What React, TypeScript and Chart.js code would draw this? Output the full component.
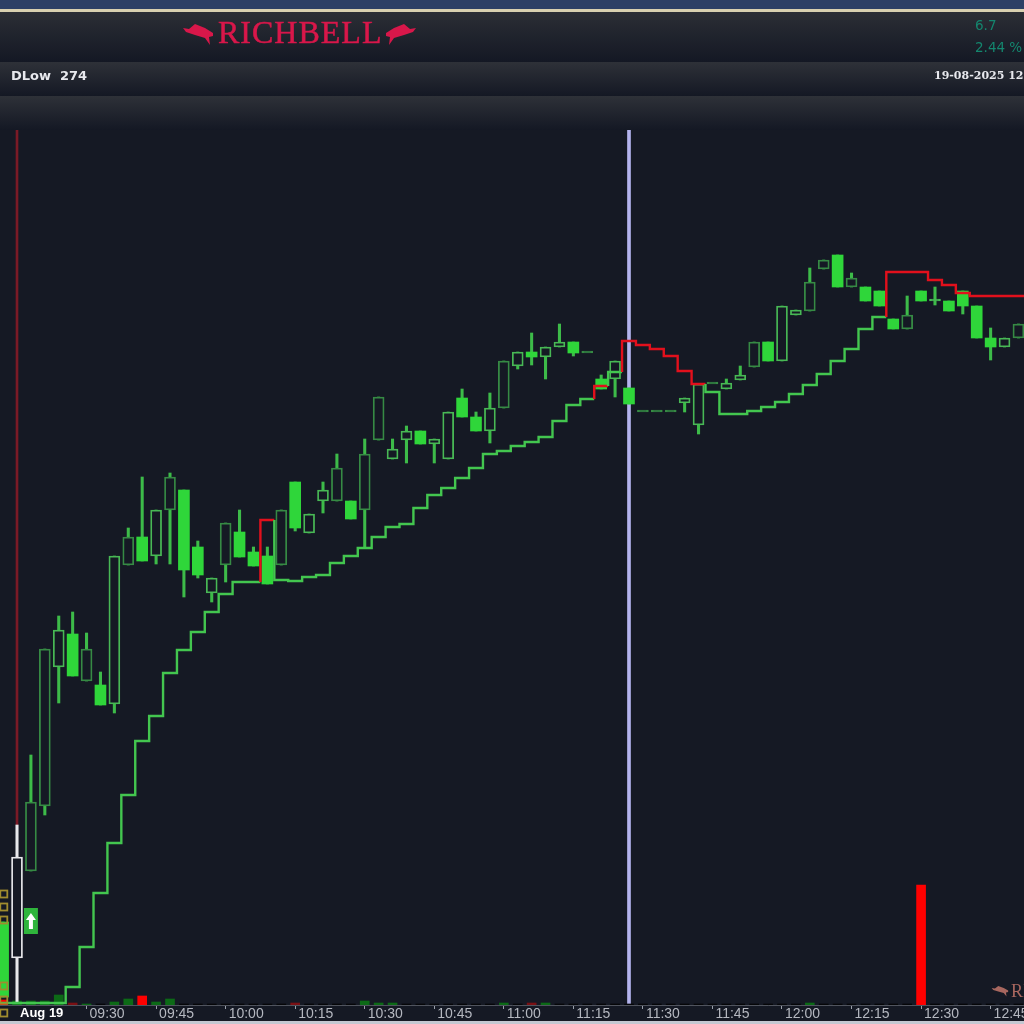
import React, { useEffect, useRef } from "react";
import { Chart, registerables } from "chart.js";

Chart.register(...registerables);

// ---- Data ----
const candleTimes = [
  "Prev", "09:15", "09:18", "09:21", "09:24", "09:27", "09:30", "09:33", "09:36", "09:39",
  "09:42", "09:45", "09:48", "09:51", "09:54", "09:57", "10:00", "10:03", "10:06", "10:09",
  "10:12", "10:15", "10:18", "10:21", "10:24", "10:27", "10:30", "10:33", "10:36", "10:39",
  "10:42", "10:45", "10:48", "10:51", "10:54", "10:57", "11:00", "11:03", "11:06", "11:09",
  "11:12", "11:15", "11:18", "11:21", "11:24", "11:27", "11:30", "11:33", "11:36", "11:39",
  "11:42", "11:45", "11:48", "11:51", "11:54", "11:57", "12:00", "12:03", "12:06", "12:09",
  "12:12", "12:15", "12:18", "12:21", "12:24", "12:27", "12:30", "12:33", "12:36", "12:39",
  "12:42", "12:45", "12:48", "12:51",
];
const opens = [
  274.81, 274.45, 275.32, 275.97, 277.36, 277.69, 277.22, 277.18, 276.99, 278.38,
  278.66, 278.47, 278.93, 279.13, 278.56, 278.10, 278.38, 278.71, 278.51, 278.47,
  278.38, 279.21, 278.70, 279.02, 279.02, 279.02, 278.93, 279.63, 279.44, 279.63,
  279.72, 279.59, 279.44, 280.05, 279.86, 279.72, 279.95, 280.37, 280.51, 280.46,
  280.56, 280.61, 280.50, 280.24, 280.24, 280.15, 279.91, 279.91, 279.91, 280.00,
  279.78, 280.19, 280.14, 280.23, 280.36, 280.61, 280.42, 280.88, 280.92, 281.34,
  281.48, 281.16, 281.16, 281.12, 280.84, 280.74, 281.12, 281.02, 281.02, 281.12,
  280.97, 280.65, 280.56, 280.65,
];
const closes = [
  274.06, 275.46, 276.01, 277.54, 277.73, 277.27, 277.54, 276.98, 278.47, 278.66,
  278.42, 278.93, 279.26, 278.33, 278.28, 278.25, 278.80, 278.46, 278.37, 278.19,
  278.93, 278.75, 278.89, 279.13, 279.35, 278.84, 279.49, 280.06, 279.54, 279.72,
  279.59, 279.64, 279.91, 279.86, 279.72, 279.95, 280.42, 280.51, 280.46, 280.56,
  280.61, 280.50, 280.52, 280.14, 280.42, 279.99, 279.93, 279.93, 279.93, 280.05,
  280.19, 280.21, 280.20, 280.28, 280.61, 280.42, 280.97, 280.93, 281.21, 281.43,
  281.16, 281.25, 281.02, 280.97, 280.74, 280.88, 281.02, 281.04, 280.92, 280.97,
  280.65, 280.56, 280.65, 280.79,
];
const highs = [
  274.81, 275.78, 276.48, 277.54, 277.87, 277.91, 277.70, 277.31, 278.47, 278.75,
  279.26, 278.93, 279.30, 279.13, 278.62, 278.25, 278.80, 278.93, 278.56, 278.56,
  278.93, 279.21, 278.89, 279.21, 279.49, 279.02, 279.64, 280.06, 279.64, 279.77,
  279.72, 279.64, 279.91, 280.14, 279.91, 280.10, 280.42, 280.51, 280.70, 280.56,
  280.79, 280.61, 280.52, 280.28, 280.42, 280.15, 279.93, 279.93, 279.93, 280.05,
  280.19, 280.21, 280.24, 280.37, 280.61, 280.61, 280.97, 280.93, 281.35, 281.43,
  281.48, 281.30, 281.16, 281.12, 280.84, 281.07, 281.12, 281.16, 281.02, 281.12,
  280.97, 280.75, 280.65, 280.79,
];
const lows = [
  274.06, 274.00, 275.32, 275.88, 277.00, 277.27, 277.22, 276.98, 276.90, 278.38,
  278.42, 278.39, 278.39, 278.06, 278.25, 278.01, 278.21, 278.46, 278.37, 278.19,
  278.38, 278.72, 278.70, 278.90, 279.02, 278.84, 278.56, 279.63, 279.44, 279.40,
  279.59, 279.40, 279.44, 279.86, 279.72, 279.60, 279.95, 280.34, 280.38, 280.24,
  280.56, 280.47, 280.50, 280.14, 280.06, 279.99, 279.91, 279.91, 279.91, 279.91,
  279.69, 280.19, 280.14, 280.23, 280.36, 280.42, 280.42, 280.88, 280.92, 281.34,
  281.16, 281.16, 281.02, 280.97, 280.74, 280.74, 281.02, 280.98, 280.92, 280.89,
  280.65, 280.43, 280.56, 280.65,
];
const trendLine = [
  274.00, 274.00, 274.00, 274.00, 274.00, 274.16, 274.56, 275.10, 275.60, 276.08,
  276.62, 276.87, 277.30, 277.53, 277.71, 277.91, 278.09, 278.21, 278.21, 278.83,
  278.23, 278.22, 278.26, 278.28, 278.40, 278.47, 278.55, 278.66, 278.76, 278.79,
  278.95, 279.08, 279.15, 279.25, 279.35, 279.49, 279.52, 279.57, 279.61, 279.66,
  279.82, 279.98, 280.04, 280.17, 280.31, 280.62, 280.58, 280.54, 280.47, 280.32,
  280.19, 280.11, 279.89, 279.89, 279.92, 279.96, 280.01, 280.09, 280.18, 280.29,
  280.42, 280.54, 280.74, 280.86, 281.31, 281.31, 281.31, 281.23, 281.18, 281.10,
  281.07, 281.07, 281.07, 281.07,
];
const trendDownSteps = [19, 43, 45, 46, 47, 48, 49, 50, 64, 65, 66, 67, 68, 69, 70, 71, 72, 73];
const volumes = [
  5, 4, 4, 4, 10, 2, 1, 1, 3, 6,
  9, 3, 6, 1, 1, 1, 1, 1, 1, 1,
  1, 2, 1, 1, 1, 1, 4, 2, 2, 1,
  1, 1, 1, 1, 1, 1, 2, 1, 2, 2,
  1, 1, 1, 1, 1, 1, 1, 1, 1, 1,
  1, 1, 1, 1, 1, 1, 1, 1, 2, 1,
  1, 1, 1, 1, 1, 1, 120, 1, 1, 1,
  1, 1, 1, 1,
];
const volumeRedBars = [0, 5, 10, 21, 38, 66];
const volumeGreenBars = [1, 2, 3, 4, 6, 8, 9, 11, 12, 26, 27, 28, 36, 39, 58];
const tickCandles = [1, 6, 11, 16, 21, 26, 31, 36, 41, 46, 51, 56, 61, 66, 71];
const tickLabels = ["Aug 19", "09:30", "09:45", "10:00", "10:15", "10:30", "10:45", "11:00", "11:15", "11:30", "11:45", "12:00", "12:15", "12:30", "12:45"];
const selectedCandle = 45;
const sessionCandle = 1;
const sessionHigh = 275.78;
const signalCandle = 2;
const signalPrice = 274.82;
const alertPrices = [275.09, 274.96, 274.83, 274.17, 274.03, 273.90];
const alertCandle = 0;
const lowLabel = "DLow";
const lowValue = "274";
const changeValue = "6.7";
const changePercent = "2.44 %";
const stamp = "19-08-2025 12:51";
const brand = "RICHBELL";

// ---- Styles ----
const BG = "#151924";
const GREEN = "#2fd63a";
const WICK = "#3dbb49";
const HOLLOW = "#48b855";
const HOLLOW_DIM = "#368a44";
const dimHollow = [2, 3, 6, 9, 12, 16, 20, 24, 26, 27, 36, 42, 46, 47, 48, 51, 54, 58, 59, 61, 65, 73];
const LINE_GREEN = "#43c64f";
const LINE_RED = "#e2101c";
const yMin = 273.98;
const yMax = 282.73;
const xMin = -0.223;
const xMax = 73.4;

function panel(ctx: CanvasRenderingContext2D, top: number, bottom: number, w: number, a = "#2e3138", b = "#141824") {
  const g = ctx.createLinearGradient(0, top, 0, bottom);
  g.addColorStop(0, a);
  g.addColorStop(1, b);
  ctx.fillStyle = g;
  ctx.fillRect(0, top, w, bottom - top);
}

function bull(ctx: CanvasRenderingContext2D, mirrorAt: number | null) {
  const pts = [[183, 28], [189, 29], [195, 24], [205, 28], [213, 33], [213, 36], [209, 37], [210, 45], [205, 38], [195, 35], [186, 32]];
  ctx.beginPath();
  pts.forEach(([x, y], i) => {
    const px = mirrorAt === null ? x : 2 * mirrorAt - x;
    if (i === 0) ctx.moveTo(px, y);
    else ctx.lineTo(px, y);
  });
  ctx.closePath();
  ctx.fill();
}

const framePlugin = {
  id: "frame",
  beforeDraw(chart: any) {
    const { ctx, width, height } = chart;
    ctx.save();
    ctx.fillStyle = BG;
    ctx.fillRect(0, 0, width, height);
    ctx.fillStyle = "#2d4065";
    ctx.fillRect(0, 0, width, 9);
    ctx.fillStyle = "#d8d0b0";
    ctx.fillRect(0, 9, width, 3);
    panel(ctx, 12, 62, width, "#2b2e35", "#141824");
    panel(ctx, 62, 96, width);
    panel(ctx, 96, 130, width);
    ctx.fillStyle = "#c4c8d2";
    ctx.fillRect(0, 1021, width, 3);

    ctx.textBaseline = "middle";
    ctx.fillStyle = "#d8174a";
    ctx.strokeStyle = "#d8174a";
    bull(ctx, null);
    bull(ctx, 299.5);
    ctx.font = "32px 'Liberation Serif'";
    (ctx as any).letterSpacing = "1px";
    ctx.textAlign = "left";
    ctx.fillText(brand, 218, 35);
    ctx.lineWidth = 0.5;
    ctx.strokeText(brand, 218, 35);
    (ctx as any).letterSpacing = "0px";

    ctx.fillStyle = "#e8e9ee";
    ctx.font = "bold 13px 'DejaVu Sans'";
    ctx.fillText(lowLabel, 11, 77);
    ctx.fillText(lowValue, 60, 77);
    ctx.font = "bold 11px 'DejaVu Serif'";
    ctx.fillText(stamp, 934, 76);
    ctx.fillStyle = "#14866e";
    ctx.font = "13.5px 'DejaVu Sans'";
    ctx.fillText(changeValue, 975, 26);
    ctx.fillText(changePercent, 975, 48);
    ctx.restore();
  },
  afterDatasetsDraw(chart: any) {
    const { ctx, scales } = chart;
    const x = scales.x;
    const y = scales.y;
    ctx.save();
    // watermark
    ctx.fillStyle = "#a8675f";
    ctx.save();
    ctx.translate(891, 974);
    ctx.scale(0.55, 0.5);
    bull(ctx, null);
    ctx.restore();
    ctx.font = "18px 'Liberation Serif'";
    ctx.textBaseline = "middle";
    ctx.textAlign = "left";
    ctx.fillText(brand, 1011, 992);

    // buy signal
    const sx = x.getPixelForValue(signalCandle);
    const sy = y.getPixelForValue(signalPrice);
    ctx.fillStyle = "#2fb53c";
    ctx.fillRect(sx - 7, sy - 13, 14, 26);
    ctx.fillStyle = "#ffffff";
    ctx.beginPath();
    ctx.moveTo(sx, sy - 8);
    ctx.lineTo(sx + 5, sy - 1);
    ctx.lineTo(sx + 2, sy - 1);
    ctx.lineTo(sx + 2, sy + 8);
    ctx.lineTo(sx - 2, sy + 8);
    ctx.lineTo(sx - 2, sy - 1);
    ctx.lineTo(sx - 5, sy - 1);
    ctx.closePath();
    ctx.fill();

    // alert squares
    ctx.strokeStyle = "#a08c2e";
    ctx.lineWidth = 1.8;
    const ax = x.getPixelForValue(alertCandle);
    alertPrices.forEach((p) => {
      ctx.strokeRect(ax - 2.8, y.getPixelForValue(p) - 3.5, 7, 7);
    });
    ctx.restore();
  },
};

export default function App() {
  const ref = useRef<HTMLCanvasElement | null>(null);
  useEffect(() => {
    document.body.style.margin = "0";
    document.body.style.background = BG;
    document.body.style.overflow = "hidden";
    const canvas = ref.current;
    if (!canvas) return;
    const idx = candleTimes.map((_, i) => i);
    const isUp = (i: number) => closes[i] > opens[i];
    const isFlat = (i: number) => Math.abs(closes[i] - opens[i]) < 0.025;
    const hollowColor = (i: number) => (i === sessionCandle ? "#e8e8ec" : dimHollow.includes(i) ? HOLLOW_DIM : HOLLOW);
    const chart = new Chart(canvas, {
      type: "bar",
      plugins: [framePlugin],
      data: {
        labels: candleTimes,
        datasets: [
          {
            type: "line",
            label: "Trend",
            data: [{ x: -0.5, y: trendLine[0] }, ...idx.map((i) => ({ x: i + 0.5, y: trendLine[i] }))],
            borderColor: LINE_GREEN,
            borderWidth: 2.4,
            stepped: "after",
            pointRadius: 0,
            tension: 0,
            order: 1,
            segment: {
              borderColor: (c: any) => (trendDownSteps.includes(c.p1DataIndex - 1) ? LINE_RED : LINE_GREEN),
            },
          },
          {
            label: "Bodies",
            data: idx.map((i) => ({ x: i, y: [opens[i], closes[i]] })),
            barThickness: 11,
            grouped: false,
            borderSkipped: false,
            borderWidth: idx.map((i) => (isUp(i) ? 1.8 : 0)),
            backgroundColor: idx.map((i) => (isUp(i) ? (isFlat(i) ? hollowColor(i) : BG) : GREEN)),
            borderColor: idx.map((i) => (isUp(i) ? hollowColor(i) : GREEN)),
            order: 2,
          },
          {
            label: "Wicks",
            data: idx.map((i) => ({ x: i, y: [lows[i], highs[i]] })),
            barThickness: 2.4,
            grouped: false,
            borderWidth: 0,
            backgroundColor: idx.map((i) =>
              i === sessionCandle ? "#e8e8ec" : isFlat(i) && highs[i] - lows[i] < 0.025 ? "rgba(0,0,0,0)" : WICK
            ),
            order: 3,
          },
          {
            label: "Volume",
            yAxisID: "v",
            data: idx.map((i) => ({ x: i, y: volumes[i] })),
            barThickness: 9,
            grouped: false,
            borderWidth: 0,
            backgroundColor: idx.map((i) =>
              volumeRedBars.includes(i)
                ? volumes[i] >= 5
                  ? "#ff0000"
                  : "#7a1014"
                : volumeGreenBars.includes(i)
                ? "#0c6a16"
                : "#050608"
            ),
            order: 4,
          },
          {
            label: "Session",
            data: [{ x: sessionCandle, y: [sessionHigh, yMax] }],
            barThickness: 2,
            grouped: false,
            borderWidth: 0,
            backgroundColor: "#7a1a26",
            order: 5,
          },
          {
            label: "Cursor",
            data: [{ x: selectedCandle, y: [yMin, yMax] }],
            barThickness: 3,
            grouped: false,
            borderWidth: 0,
            backgroundColor: "#b4b4ee",
            order: 6,
          },
        ] as any,
      },
      options: {
        animation: false,
        responsive: false,
        devicePixelRatio: 1,
        layout: { padding: { top: 130, left: 0, right: 0, bottom: 0 } },
        plugins: { legend: { display: false }, tooltip: { enabled: false }, title: { display: false } },
        scales: {
          x: {
            type: "linear",
            min: xMin,
            max: xMax,
            offset: false,
            afterBuildTicks: (s: any) => {
              s.ticks = tickCandles.map((value) => ({ value }));
            },
            afterFit: (s: any) => {
              s.height = 19;
              s.paddingLeft = 0;
              s.paddingRight = 0;
            },
            grid: {
              offset: false,
              drawOnChartArea: false,
              drawTicks: true,
              tickLength: 4,
              tickColor: (c: any) => (c.index === 0 ? "rgba(0,0,0,0)" : "#9aa0aa"),
            },
            border: { display: true, color: "#50545e", width: 1 },
            ticks: {
              autoSkip: false,
              maxRotation: 0,
              minRotation: 0,
              align: "start",
              labelOffset: 3,
              padding: -3,
              color: (c: any) => (c.index === 0 ? "#ffffff" : "#b5b8c0"),
              font: (c: any) => ({
                family: "'Liberation Sans'",
                size: c.index === 0 ? 13 : 14,
                weight: c.index === 0 ? "bold" : "normal",
              }),
              callback: (v: any) => tickLabels[tickCandles.indexOf(Number(v))] ?? "",
            },
          },
          y: { type: "linear", display: false, min: yMin, max: yMax },
          v: { type: "linear", display: false, min: 0, max: 875 },
        },
      } as any,
    });
    return () => chart.destroy();
  }, []);
  return (
    <canvas
      ref={ref}
      width={1024}
      height={1024}
      style={{ display: "block", position: "absolute", left: 0, top: 0, filter: "blur(0.4px)" }}
    />
  );
}
